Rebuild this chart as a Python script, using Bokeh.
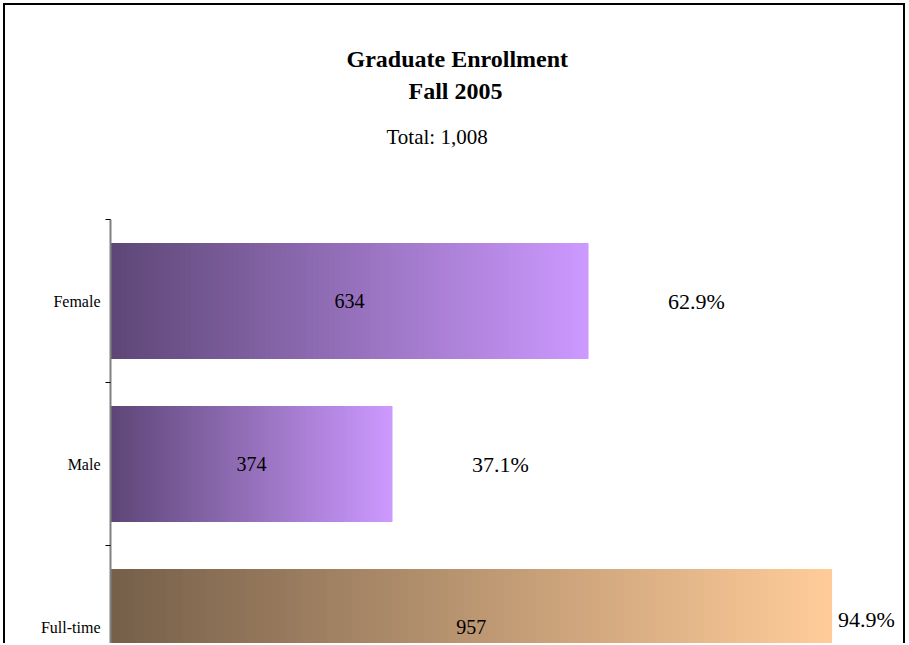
import numpy as np
from bokeh.plotting import figure
from bokeh.models import Range1d, FixedTicker, Title
from bokeh.core.properties import value
from bokeh.embed import file_html
from bokeh.resources import INLINE

# ---- data ----
categories = ["Female", "Male", "Full-time"]
counts = [634, 374, 957]
percents = ["62.9%", "37.1%", "94.9%"]
title_lines = ["Graduate Enrollment", "Fall 2005"]
total_text = "Total: 1,008"

# ---- styles ----
FONT = value("Liberation Serif")
grad = [("#5E4777", "#CC99FF"), ("#5E4777", "#CC99FF"), ("#76604A", "#FFCC99")]
BAR_H = 0.712
W, H = 902, 640
ML, MR, MT = 105, 7, 214
PX_PER_UNIT = 0.754
BAND = 163.0

frame_w = W - ML - MR
frame_h = H - MT
x_end = frame_w / PX_PER_UNIT
y_top = -0.5
y_bottom = y_top + frame_h / BAND

p = figure(width=W, height=H, output_backend="svg", toolbar_location=None,
           x_range=Range1d(0, x_end), y_range=Range1d(y_bottom, y_top),
           x_axis_type=None, min_border_left=ML, min_border_right=MR,
           min_border_top=MT, min_border_bottom=0,
           styles={"margin-left": "3px", "margin-top": "3px",
                   "border-top": "2px solid black",
                   "border-left": "2px solid black",
                   "border-right": "2px solid black"})
p.grid.visible = False
p.outline_line_color = None
p.background_fill_color = "white"
p.border_fill_color = "white"


def hex2rgb(h):
    h = h.lstrip("#")
    return np.array([int(h[i:i + 2], 16) for i in (0, 2, 4)], dtype=float)


# gradient bars built as thin overlapping slices
N = 90
ys, lefts, rights, cols = [], [], [], []
for i, (cat, v) in enumerate(zip(categories, counts)):
    c0, c1 = hex2rgb(grad[i][0]), hex2rgb(grad[i][1])
    for k in range(N):
        t = k / (N - 1)
        c = c0 + (c1 - c0) * t
        ys.append(i)
        lefts.append(v * k / N)
        rights.append(min(v, v * (k + 1) / N + 2.5))
        cols.append("#%02x%02x%02x" % tuple(int(round(x)) for x in c))
p.hbar(y=ys, left=lefts, right=rights, height=BAR_H, fill_color=cols, line_color=None)

# value labels inside bars
p.text(x=[v / 2 for v in counts], y=list(range(len(counts))), text=[str(v) for v in counts],
       text_font=FONT, text_font_size="20px", text_align="center", text_baseline="middle",
       text_color="black")

# percent labels
OFF = 143
in_x, in_y, in_t, out_x, out_y, out_t = [], [], [], [], [], []
for i, (v, pc) in enumerate(zip(counts, percents)):
    if v + OFF + 40 < x_end:
        in_x.append(v + OFF); in_y.append(i); in_t.append(pc)
    else:
        out_x.append(v + 8); out_y.append(i); out_t.append(pc)
p.text(x=in_x, y=in_y, text=in_t, text_font=FONT, text_font_size="22px",
       text_align="center", text_baseline="middle", text_color="black")
p.text(x=out_x, y=out_y, text=out_t, text_font=FONT, text_font_size="22px",
       text_align="left", text_baseline="middle", text_color="black", y_offset=-8)

# y axis: labels at band centres, ticks at band boundaries
ax = p.yaxis[0]
ax.ticker = FixedTicker(ticks=list(range(len(categories))),
                        minor_ticks=[i - 0.5 for i in range(len(categories) + 1)])
ax.major_label_overrides = {i: c for i, c in enumerate(categories)}
ax.major_tick_line_color = None
ax.major_tick_in = 0
ax.major_tick_out = 0
ax.minor_tick_line_color = "black"
ax.minor_tick_in = 0
ax.minor_tick_out = 5
ax.minor_tick_line_width = 1
ax.axis_line_color = "#808080"
ax.axis_line_width = 2
ax.major_label_standoff = 5
ax.major_label_text_font = "Liberation Serif"
ax.major_label_text_font_size = "16px"
ax.major_label_text_color = "black"

# titles (first added sits closest to the plot)
p.add_layout(Title(text=" ", text_font_size="1px", standoff=53), "above")
p.add_layout(Title(text=total_text, text_font="Liberation Serif", text_font_size="21px",
                   text_font_style="normal", align="left", offset=276, standoff=29,
                   text_color="black"), "above")
p.add_layout(Title(text=title_lines[1], text_font="Liberation Serif", text_font_size="24px",
                   text_font_style="bold", align="left", offset=298, standoff=9,
                   text_color="black"), "above")
p.add_layout(Title(text=title_lines[0], text_font="Liberation Serif", text_font_size="24px",
                   text_font_style="bold", align="left", offset=236, standoff=0,
                   text_color="black"), "above")

open("out.html", "w").write(file_html(p, INLINE))
